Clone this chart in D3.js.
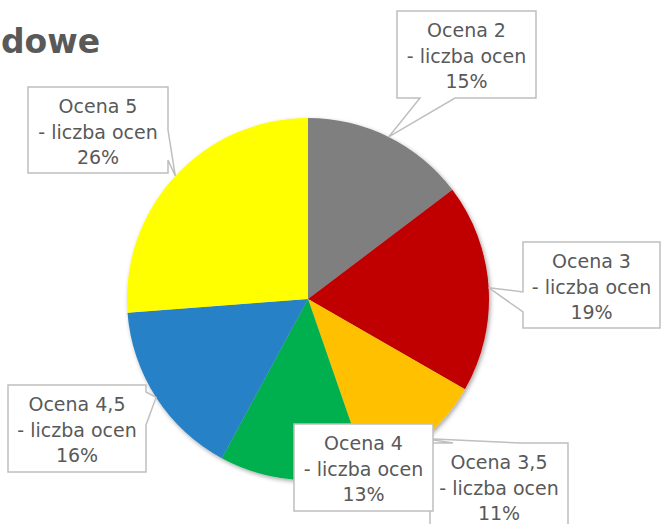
<!DOCTYPE html>
<html>
<head>
<meta charset="utf-8">
<script src="https://cdn.jsdelivr.net/npm/d3@7"></script>
<style>
  html, body { margin: 0; padding: 0; background: #ffffff; }
  svg { display: block; }
</style>
</head>
<body>
<svg id="chart" width="663" height="524"></svg>
<script>
// ---- data ----
const categories = ["Ocena 2", "Ocena 3", "Ocena 3,5", "Ocena 4", "Ocena 4,5", "Ocena 5"];
const shares = [14.7, 18.6, 11.4, 13.2, 15.9, 26.2];     // % of grades (pie angles)
const percentLabels = ["15%", "19%", "11%", "13%", "16%", "26%"];
const sliceColors = ["#7F7F7F", "#C00000", "#FFC000", "#00B050", "#2781C6", "#FFFF00"];
const titleText = "dowe";

// ---- layout (callout boxes: x0, y0, x1, y1, wedge side, wedge base from/to) ----
const calloutLayout = [
  { x0: 397, y0: 11,  x1: 536, y1: 98,  side: "bottom", b0: 420, b1: 455 },
  { x0: 523, y0: 242, x1: 660, y1: 328, side: "left",   b0: 292, b1: 312 },
  { x0: 430, y0: 443, x1: 568, y1: 531, side: "top",    b0: 453, b1: 520 },
  { x0: 294, y0: 424, x1: 433, y1: 511, side: "none" },
  { x0: 8,   y0: 385, x1: 146, y1: 472, side: "right",  b0: 392, b1: 425 },
  { x0: 28,  y0: 87,  x1: 168, y1: 173, side: "right",  b0: 130, b1: 160 }
];
const drawOrder = [0, 1, 5, 4, 2, 3];

const svg = d3.select("#chart");
const cx = 308, cy = 299, R = 181;

// shadow filter
const defs = svg.append("defs");
const f = defs.append("filter").attr("id", "shadow")
  .attr("x", "-10%").attr("y", "-10%").attr("width", "125%").attr("height", "125%");
f.append("feDropShadow").attr("dx", 1.5).attr("dy", 2).attr("stdDeviation", 2)
  .attr("flood-color", "#000").attr("flood-opacity", 0.35);

// title
svg.append("text")
  .attr("x", 1).attr("y", 53)
  .attr("font-family", "'DejaVu Sans', sans-serif")
  .attr("font-weight", "bold")
  .attr("font-size", 33)
  .attr("fill", "#595959")
  .text(titleText);

const pie = d3.pie().sort(null).value(d => d).startAngle(0).endAngle(2 * Math.PI);
const arcs = pie(shares);
const arc = d3.arc().innerRadius(0).outerRadius(R);
const tipArc = d3.arc().innerRadius(R).outerRadius(R);

const g = svg.append("g").attr("transform", `translate(${cx},${cy})`);
const pg = g.append("g").attr("filter", "url(#shadow)");
pg.selectAll("path").data(arcs).enter().append("path")
  .attr("d", arc)
  .attr("fill", (d, i) => sliceColors[i]);

// callouts
function calloutPath(L, tip) {
  const { x0, y0, x1, y1, side, b0, b1 } = L;
  const p = d3.path();
  p.moveTo(x0, y0);
  if (side === "top") { p.lineTo(b0, y0); p.lineTo(tip[0], tip[1]); p.lineTo(b1, y0); }
  p.lineTo(x1, y0);
  if (side === "right") { p.lineTo(x1, b0); p.lineTo(tip[0], tip[1]); p.lineTo(x1, b1); }
  p.lineTo(x1, y1);
  if (side === "bottom") { p.lineTo(b1, y1); p.lineTo(tip[0], tip[1]); p.lineTo(b0, y1); }
  p.lineTo(x0, y1);
  if (side === "left") { p.lineTo(x0, b1); p.lineTo(tip[0], tip[1]); p.lineTo(x0, b0); }
  p.closePath();
  return p.toString();
}

const lg = svg.append("g");
drawOrder.forEach(i => {
  const L = calloutLayout[i];
  const c = tipArc.centroid(arcs[i]);
  const tip = [cx + c[0], cy + c[1]];
  const cg = lg.append("g");
  cg.append("path")
    .attr("d", calloutPath(L, tip))
    .attr("fill", "#ffffff")
    .attr("stroke", "#BFBFBF")
    .attr("stroke-width", 1.5)
    .attr("stroke-linejoin", "miter");
  const mx = (L.x0 + L.x1) / 2;
  const lines = [categories[i], "- liczba ocen", percentLabels[i]];
  lines.forEach((t, k) => {
    cg.append("text")
      .attr("x", mx)
      .attr("y", L.y0 + 26 + k * 25.5)
      .attr("text-anchor", "middle")
      .attr("font-family", "'DejaVu Sans', sans-serif")
      .attr("font-size", 19)
      .attr("fill", "#595959")
      .text(t);
  });
});
</script>
</body>
</html>
